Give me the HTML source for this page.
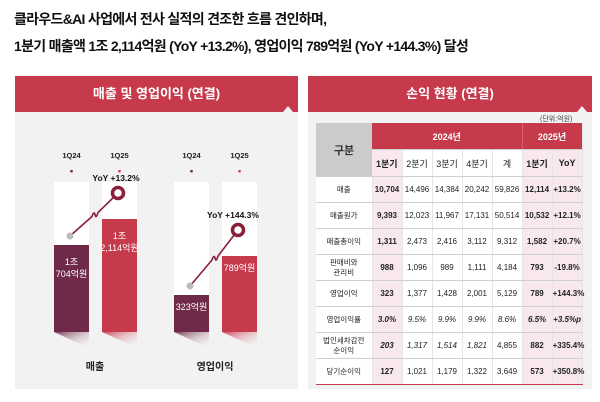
<!DOCTYPE html>
<html><head><meta charset="utf-8">
<style>
body{margin:0;width:600px;height:402px;background:#fff;font-family:"Liberation Sans","Noto Sans CJK KR",sans-serif;position:relative;overflow:hidden}
.abs{position:absolute}
.title{left:14px;font-size:14px;font-weight:bold;color:#111;letter-spacing:-0.7px;white-space:nowrap}
.hdr{background:#c63a4c;color:#fff;font-weight:bold;font-size:13px;text-align:center;line-height:36px;top:76px;height:36px}
.notch{width:0;height:0;border-left:5px solid transparent;border-right:5px solid transparent;border-bottom:6px solid #f2f2f2;top:106px}
.panel{background:#f2f2f2;top:112px;height:277px}
table{border-collapse:collapse;font-size:8px;color:#222;table-layout:fixed}
td{text-align:center;padding:0;height:25px;border-bottom:1px solid #cfcfcf;border-right:1px solid #e6e6e6}
td.l{font-size:7.5px;background:#fff}
td.p{background:#f8e8eb;font-weight:bold}
td.b{font-weight:bold}
td.i{font-style:italic}
</style></head><body>
<div class="abs title" style="top:9px">클라우드&amp;AI 사업에서 전사 실적의 견조한 흐름 견인하며,</div>
<div class="abs title" style="top:36px">1분기 매출액 1조 2,114억원 (YoY +13.2%), 영업이익 789억원 (YoY +144.3%) 달성</div>

<div class="abs hdr" style="left:15px;width:283px">매출 및 영업이익 (연결)</div>
<div class="abs hdr" style="left:308px;width:284px">손익 현황 (연결)</div>
<div class="abs panel" style="left:15px;width:283px"></div>
<div class="abs panel" style="left:308px;width:284px"></div>
<div class="abs notch" style="left:283px"></div>
<div class="abs notch" style="left:577px"></div>

<svg class="abs" style="left:0;top:0" width="300" height="402" id="chart"></svg>

<div class="abs" style="left:540px;top:114px;font-size:7px;color:#444">(단위:억원)</div>
<table class="abs" style="left:316px;top:123px;width:266px">
<colgroup><col style="width:56px"><col style="width:30px"><col style="width:30px"><col style="width:30px"><col style="width:30px"><col style="width:30px"><col style="width:30px"><col style="width:30px"></colgroup>
<tr style="color:#fff;font-weight:bold;font-size:9px"><td rowspan="2" style="background:#cbcbcb;color:#333;font-size:11px;border-right:none">구분</td><td colspan="5" style="background:#c63a4c;height:26px;border-right:1px solid #d8606f">2024년</td><td colspan="2" style="background:#c63a4c">2025년</td></tr>
<tr style="font-size:9px"><td class="p" style="height:26px">1분기</td><td style="background:#fff">2분기</td><td style="background:#fff">3분기</td><td style="background:#fff">4분기</td><td style="background:#fff">계</td><td class="p">1분기</td><td class="p">YoY</td></tr>
<tr><td class="l">매출</td><td class="p">10,704</td><td style="background:#fff">14,496</td><td style="background:#fff">14,384</td><td style="background:#fff">20,242</td><td style="background:#fff">59,826</td><td class="p">12,114</td><td class="p">+13.2%</td></tr>
<tr><td class="l">매출원가</td><td class="p">9,393</td><td style="background:#fff">12,023</td><td style="background:#fff">11,967</td><td style="background:#fff">17,131</td><td style="background:#fff">50,514</td><td class="p">10,532</td><td class="p">+12.1%</td></tr>
<tr><td class="l">매출총이익</td><td class="p">1,311</td><td style="background:#fff">2,473</td><td style="background:#fff">2,416</td><td style="background:#fff">3,112</td><td style="background:#fff">9,312</td><td class="p">1,582</td><td class="p">+20.7%</td></tr>
<tr><td class="l" style="line-height:10px">판매비와<br>관리비</td><td class="p">988</td><td style="background:#fff">1,096</td><td style="background:#fff">989</td><td style="background:#fff">1,111</td><td style="background:#fff">4,184</td><td class="p">793</td><td class="p">-19.8%</td></tr>
<tr><td class="l">영업이익</td><td class="p">323</td><td style="background:#fff">1,377</td><td style="background:#fff">1,428</td><td style="background:#fff">2,001</td><td style="background:#fff">5,129</td><td class="p">789</td><td class="p">+144.3%</td></tr>
<tr><td class="l">영업이익률</td><td class="p i">3.0%</td><td class="i" style="background:#fff">9.5%</td><td class="i" style="background:#fff">9.9%</td><td class="i" style="background:#fff">9.9%</td><td class="i" style="background:#fff">8.6%</td><td class="p i">6.5%</td><td class="p i">+3.5%p</td></tr>
<tr><td class="l" style="line-height:10px">법인세차감전<br>순이익</td><td class="p i">203</td><td class="i" style="background:#fff">1,317</td><td class="i" style="background:#fff">1,514</td><td class="i" style="background:#fff">1,821</td><td style="background:#fff">4,855</td><td class="p">882</td><td class="p">+335.4%</td></tr>
<tr><td class="l" style="border-bottom:1.5px solid #c63a4c">당기순이익</td><td class="p" style="border-bottom:1.5px solid #c63a4c">127</td><td style="background:#fff;border-bottom:1.5px solid #c63a4c">1,021</td><td style="background:#fff;border-bottom:1.5px solid #c63a4c">1,179</td><td style="background:#fff;border-bottom:1.5px solid #c63a4c">1,322</td><td style="background:#fff;border-bottom:1.5px solid #c63a4c">3,649</td><td class="p" style="border-bottom:1.5px solid #c63a4c">573</td><td class="p" style="border-bottom:1.5px solid #c63a4c">+350.8%</td></tr>
</table>

<script>
const groups = ["매출", "영업이익"];
const periods = ["1Q24", "1Q25"];
const salesValues = [10704, 12114];
const opValues = [323, 789];
const salesLabels = [["1조", "704억원"], ["1조", "2,114억원"]];
const opLabels = [["323억원"], ["789억원"]];
const yoyLabels = ["YoY +13.2%", "YoY +144.3%"];

const NS = "http://www.w3.org/2000/svg";
const svg = document.getElementById("chart");
function mk(tag, attrs, parent) {
  const e = document.createElementNS(NS, tag);
  for (const k in attrs) e.setAttribute(k, attrs[k]);
  (parent || svg).appendChild(e);
  return e;
}
const defs = mk("defs", {});
const g1 = mk("linearGradient", {id: "sh1", x1: 0, y1: 0, x2: 1, y2: 1}, defs);
mk("stop", {offset: "0", "stop-color": "#6e2a48", "stop-opacity": "0.9"}, g1);
mk("stop", {offset: "1", "stop-color": "#f2f2f2", "stop-opacity": "0"}, g1);
const g2 = mk("linearGradient", {id: "sh2", x1: 0, y1: 0, x2: 1, y2: 1}, defs);
mk("stop", {offset: "0", "stop-color": "#c63a4c", "stop-opacity": "0.9"}, g2);
mk("stop", {offset: "1", "stop-color": "#f2f2f2", "stop-opacity": "0"}, g2);

const baseY = 332, topCol = 182;
function ySales(v) { return baseY - (v - 5986) * 0.01844; }
function yOp(v) { return baseY - (v + 119) * 0.0837; }
const cfg = [
  {vals: salesValues, y: ySales, xs: [54, 102], labels: salesLabels, cx: 95},
  {vals: opValues, y: yOp, xs: [174, 222], labels: opLabels, cx: 215}
];
const colors = ["#6e2a48", "#c63a4c"];
cfg.forEach((c, gi) => {
  const tops = [];
  c.vals.forEach((v, i) => {
    const x = c.xs[i], w = 35, top = c.y(v);
    tops.push(top);
    const p = mk("text", {x: x + w / 2, y: 158, "text-anchor": "middle", "font-size": 7.5, "font-weight": "bold", fill: "#222"});
    p.textContent = periods[i];
    
    
    mk("rect", {x: x + w / 2 - 1.2, y: 170, width: 2.4, height: 2.4, fill: colors[i]});
    mk("rect", {x: x, y: topCol, width: w, height: baseY - topCol, fill: "#fff"});
    const r = mk("rect", {x: x, y: top, width: w, height: baseY - top, fill: colors[i]});
    
    
    mk("polygon", {points: `${x},${baseY} ${x + w},${baseY} ${x + w},${baseY + 16}`, fill: `url(#sh${i + 1})`});
    const lines = c.labels[i];
    const ty = gi === 0 ? top + 20 : top + 15;
    lines.forEach((s, li) => {
      const t = mk("text", {x: x + w / 2, y: ty + li * 12, "text-anchor": "middle", "font-size": 9, fill: "#fff"});
      t.textContent = s;
      
      
    });
  });
  const x0 = c.xs[0] + 16, y0 = tops[0] - 9;
  const x1 = c.xs[1] + 16, y1 = tops[1] - 26;
  const mx = (x0 + x1) / 2, my = (y0 + y1) / 2;
  mk("path", {d: `M${x0},${y0} L${mx - 2},${my + 2} q2,-6 3,-2 q1,5 3,-2 L${x1},${y1}`, stroke: "#8a1f3a", "stroke-width": 1.6, fill: "none"});
  mk("circle", {cx: x0, cy: y0, r: 3.5, fill: "#bbb"});
  mk("circle", {cx: x1, cy: y1, r: 5.5, fill: "#fff", stroke: "#8a1f3a", "stroke-width": 3.5});
  const yy = mk("text", {x: gi ? x1 - 5 : x1 - 2, y: y1 - 12, "text-anchor": "middle", "font-size": 8.5, "font-weight": "bold", fill: "#111"});
  yy.textContent = yoyLabels[gi];
  
  
  const gl = mk("text", {x: c.cx, y: 370, "text-anchor": "middle", "font-size": 10, "font-weight": "bold", fill: "#222"});
  gl.textContent = groups[gi];
  
  
});
</script>
</body></html>
